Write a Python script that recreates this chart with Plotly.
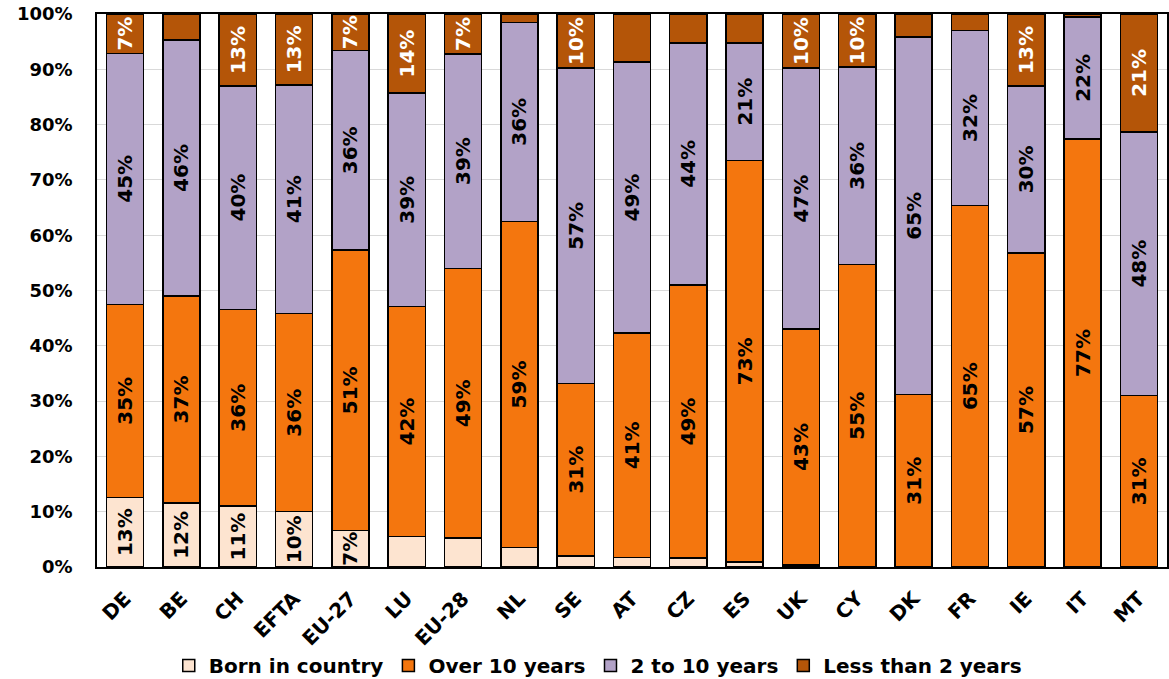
import plotly.graph_objects as go

countries = ["DE", "BE", "CH", "EFTA", "EU-27", "LU", "EU-28", "NL", "SE", "AT",
             "CZ", "ES", "UK", "CY", "DK", "FR", "IE", "IT", "MT"]

born_in_country = [12.6, 11.6, 11.0, 10.0, 6.6, 5.5, 5.2, 3.5, 2.0, 1.7,
                   1.6, 0.9, 0.4, 0.0, 0.0, 0.0, 0.0, 0.0, 0.0]
over_10_years = [34.9, 37.4, 35.6, 35.8, 50.7, 41.6, 48.8, 59.0, 31.2, 40.6,
                 49.4, 72.6, 42.6, 54.7, 31.2, 65.4, 56.8, 77.4, 31.0]
two_to_10_years = [45.4, 46.3, 40.4, 41.4, 36.1, 38.6, 38.8, 36.0, 57.0, 49.0,
                   43.8, 21.3, 47.2, 35.7, 64.6, 31.6, 30.2, 22.1, 47.7]
less_than_2_years = [7.1, 4.7, 13.0, 12.8, 6.6, 14.3, 7.2, 1.5, 9.8, 8.7,
                     5.2, 5.2, 9.8, 9.6, 4.2, 3.0, 13.0, 0.5, 21.3]

series = [
    ("Born in country", born_in_country, "#FDE4D0", "black"),
    ("Over 10 years", over_10_years, "#F4760E", "black"),
    ("2 to 10 years", two_to_10_years, "#B2A2C7", "black"),
    ("Less than 2 years", less_than_2_years, "#B45508", "white"),
]

FONT = "Verdana, DejaVu Sans, sans-serif"
CLEAR = "rgba(0,0,0,0)"


def labels(values):
    # only segments large enough to hold a label get one
    return [f"{round(v):.0f}%" if v >= 6 else "" for v in values]


fig = go.Figure()
for name, vals, color, txtcolor in series:
    fig.add_trace(go.Bar(
        name=name,
        x=countries,
        y=vals,
        marker=dict(color=color, line=dict(color="black", width=1.5)),
        text=labels(vals),
        textposition="inside",
        insidetextanchor="middle",
        textangle=-90,
        textfont=dict(family=FONT, size=20, color=txtcolor, weight="bold"),
        constraintext="none",
        cliponaxis=False,
        hoverinfo="skip",
    ))

fig.update_layout(
    barmode="stack",
    bargap=0.34,
    width=1169,
    height=679,
    margin=dict(l=97, r=2, t=14, b=112),
    paper_bgcolor="white",
    plot_bgcolor="white",
    font=dict(family=FONT, color="black"),
    uniformtext=dict(minsize=20, mode="show"),
    showlegend=True,
    legend=dict(
        orientation="h",
        x=0.468, xanchor="center",
        yref="container",
        y=0.02, yanchor="middle",
        font=dict(family=FONT, size=20, color="black", weight="bold"),
        traceorder="normal",
        itemwidth=30,
        tracegroupgap=0,
    ),
)

# trailing no-break spaces keep the percent labels clear of the axis line
fig.update_yaxes(
    range=[0, 100],
    dtick=10,
    ticksuffix="%\u00a0\u00a0\u00a0",
    showgrid=True,
    gridcolor="#D9D9D9",
    gridwidth=1,
    showline=True,
    linecolor="black",
    linewidth=2,
    mirror=True,
    ticks="",
    zeroline=False,
    automargin=False,
    tickfont=dict(family=FONT, size=18, color="black", weight="bold"),
)
fig.update_xaxes(
    tickangle=-45,
    showline=True,
    linecolor="black",
    linewidth=2,
    mirror=True,
    ticks="outside",
    ticklen=10,
    tickcolor=CLEAR,
    automargin=False,
    tickfont=dict(family=FONT, size=20, color="black", weight="bold"),
)

fig.write_html("out.html")
